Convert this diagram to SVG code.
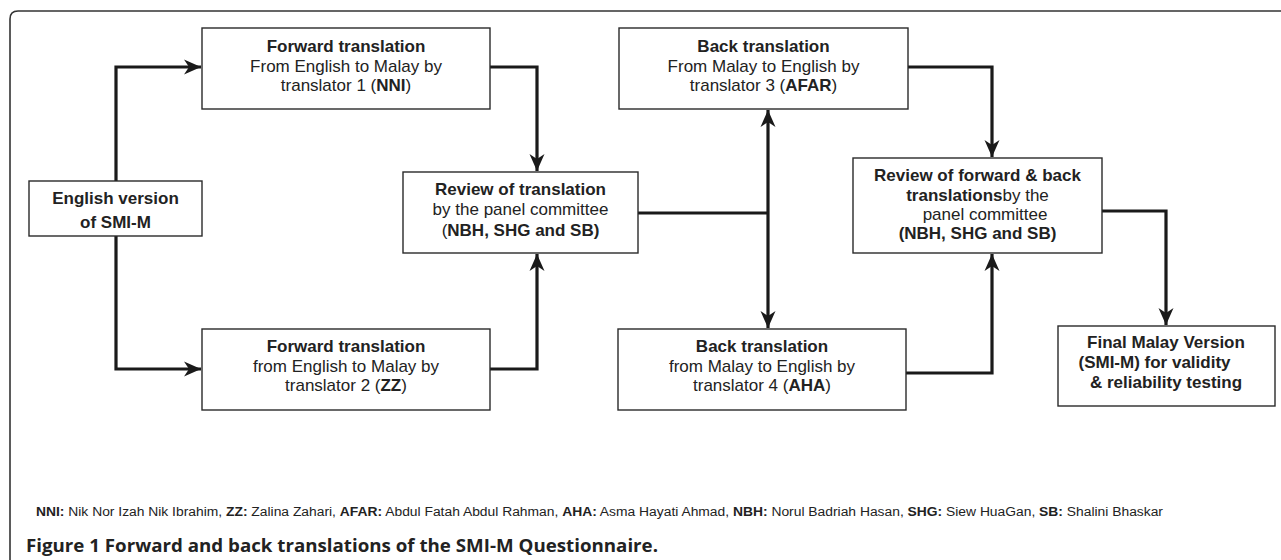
<svg xmlns="http://www.w3.org/2000/svg" width="1281" height="560" viewBox="0 0 1281 560">
<style>
.box{fill:#fff;stroke:#2a2a2a;stroke-width:1.4}
.t{font-family:"Liberation Sans",Arial,sans-serif;font-size:17px;fill:#222;text-anchor:middle}
.b{font-weight:bold}
.n{font-weight:normal}
.con{fill:none;stroke:#1a1a1a;stroke-width:3.2}
.arr{marker-end:url(#ah)}
.frame{fill:none;stroke:#333;stroke-width:1.6}
.fn{font-family:"Liberation Sans",Arial,sans-serif;font-size:12px;fill:#222}
.cap{font-family:"Open Sans","Noto Sans",sans-serif;font-size:17px;font-weight:bold;fill:#222}
</style>
<defs>
<marker id="ah" markerUnits="userSpaceOnUse" markerWidth="18" markerHeight="16" refX="17" refY="7.5" orient="auto" viewBox="0 0 18 15">
<path d="M0,0 L17,7.5 L0,15 L5,7.5 Z" fill="#1a1a1a"/>
</marker>
</defs>
<rect width="1281" height="560" fill="#fff"/>
<path class="frame" d="M10,560 L10,19 Q10,11 18,11 L1281,11"/>

<g id="connectors">
<path class="con arr" d="M116,181 L116,67 L201,67"/>
<path class="con arr" d="M116,236 L116,369 L201,369"/>
<path class="con arr" d="M490,67 L537,67 L537,171"/>
<path class="con arr" d="M490,369 L537,369 L537,254"/>
<path class="con" d="M638,213 L768,213"/>
<path class="con arr" d="M768,213 L768,110"/>
<path class="con arr" d="M768,213 L768,328"/>
<path class="con arr" d="M908,67 L992,67 L992,157"/>
<path class="con arr" d="M906,373 L992,373 L992,254"/>
<path class="con arr" d="M1102,211 L1166,211 L1166,325"/>
</g>

<g id="english">
<rect class="box" x="29" y="181" width="173" height="55"/>
<text class="t b" x="115.5" y="204">English version</text>
<text class="t b" x="115.5" y="228">of SMI-M</text>
</g>

<g id="forward1">
<rect class="box" x="202" y="28" width="288" height="81"/>
<text class="t b" x="346" y="52">Forward translation</text>
<text class="t" x="346" y="71.5">From English to Malay by</text>
<text class="t" x="346" y="91">translator 1 (<tspan class="b">NNI</tspan>)</text>
</g>

<g id="forward2">
<rect class="box" x="202" y="329" width="288" height="81"/>
<text class="t b" x="346" y="352">Forward translation</text>
<text class="t" x="346" y="371.5">from English to Malay by</text>
<text class="t" x="346" y="391">translator 2 (<tspan class="b">ZZ</tspan>)</text>
</g>

<g id="review1">
<rect class="box" x="403" y="172" width="235" height="81"/>
<text class="t b" x="520.5" y="195">Review of translation</text>
<text class="t" x="520.5" y="215">by the panel committee</text>
<text class="t" x="520.5" y="235.5">(<tspan class="b">NBH, SHG and SB)</tspan></text>
</g>

<g id="back1">
<rect class="box" x="619" y="28" width="289" height="81"/>
<text class="t b" x="763.5" y="52">Back translation</text>
<text class="t" x="763.5" y="71.5">From Malay to English by</text>
<text class="t" x="763.5" y="91">translator 3 (<tspan class="b">AFAR</tspan>)</text>
</g>

<g id="back2">
<rect class="box" x="618" y="329" width="288" height="81"/>
<text class="t b" x="762" y="352">Back translation</text>
<text class="t" x="762" y="371.5">from Malay to English by</text>
<text class="t" x="762" y="391">translator 4 (<tspan class="b">AHA</tspan>)</text>
</g>

<g id="review2">
<rect class="box" x="853" y="158" width="249" height="95"/>
<text class="t b" x="977.5" y="181">Review of forward &amp; back</text>
<text class="t" x="977.5" y="200.5"><tspan class="b">translations</tspan>by the</text>
<text class="t" x="985" y="220">panel committee</text>
<text class="t b" x="977.5" y="239">(NBH, SHG and SB)</text>
</g>

<g id="final">
<rect class="box" x="1058" y="326" width="217" height="80"/>
<text class="t b" x="1166" y="348">Final Malay Version</text>
<text class="t b" x="1154.5" y="368">(SMI-M) for validity</text>
<text class="t b" x="1166" y="388">&amp; reliability testing</text>
</g>

<text class="fn" x="36" y="516" textLength="1127" lengthAdjust="spacingAndGlyphs"><tspan font-weight="bold">NNI:</tspan> Nik Nor Izah Nik Ibrahim, <tspan font-weight="bold">ZZ:</tspan> Zalina Zahari, <tspan font-weight="bold">AFAR:</tspan> Abdul Fatah Abdul Rahman, <tspan font-weight="bold">AHA:</tspan> Asma Hayati Ahmad, <tspan font-weight="bold">NBH:</tspan> Norul Badriah Hasan, <tspan font-weight="bold">SHG:</tspan> Siew HuaGan, <tspan font-weight="bold">SB:</tspan> Shalini Bhaskar</text>
<text class="cap" x="26" y="552" textLength="632" lengthAdjust="spacingAndGlyphs">Figure 1 Forward and back translations of the SMI-M Questionnaire.</text>
</svg>
